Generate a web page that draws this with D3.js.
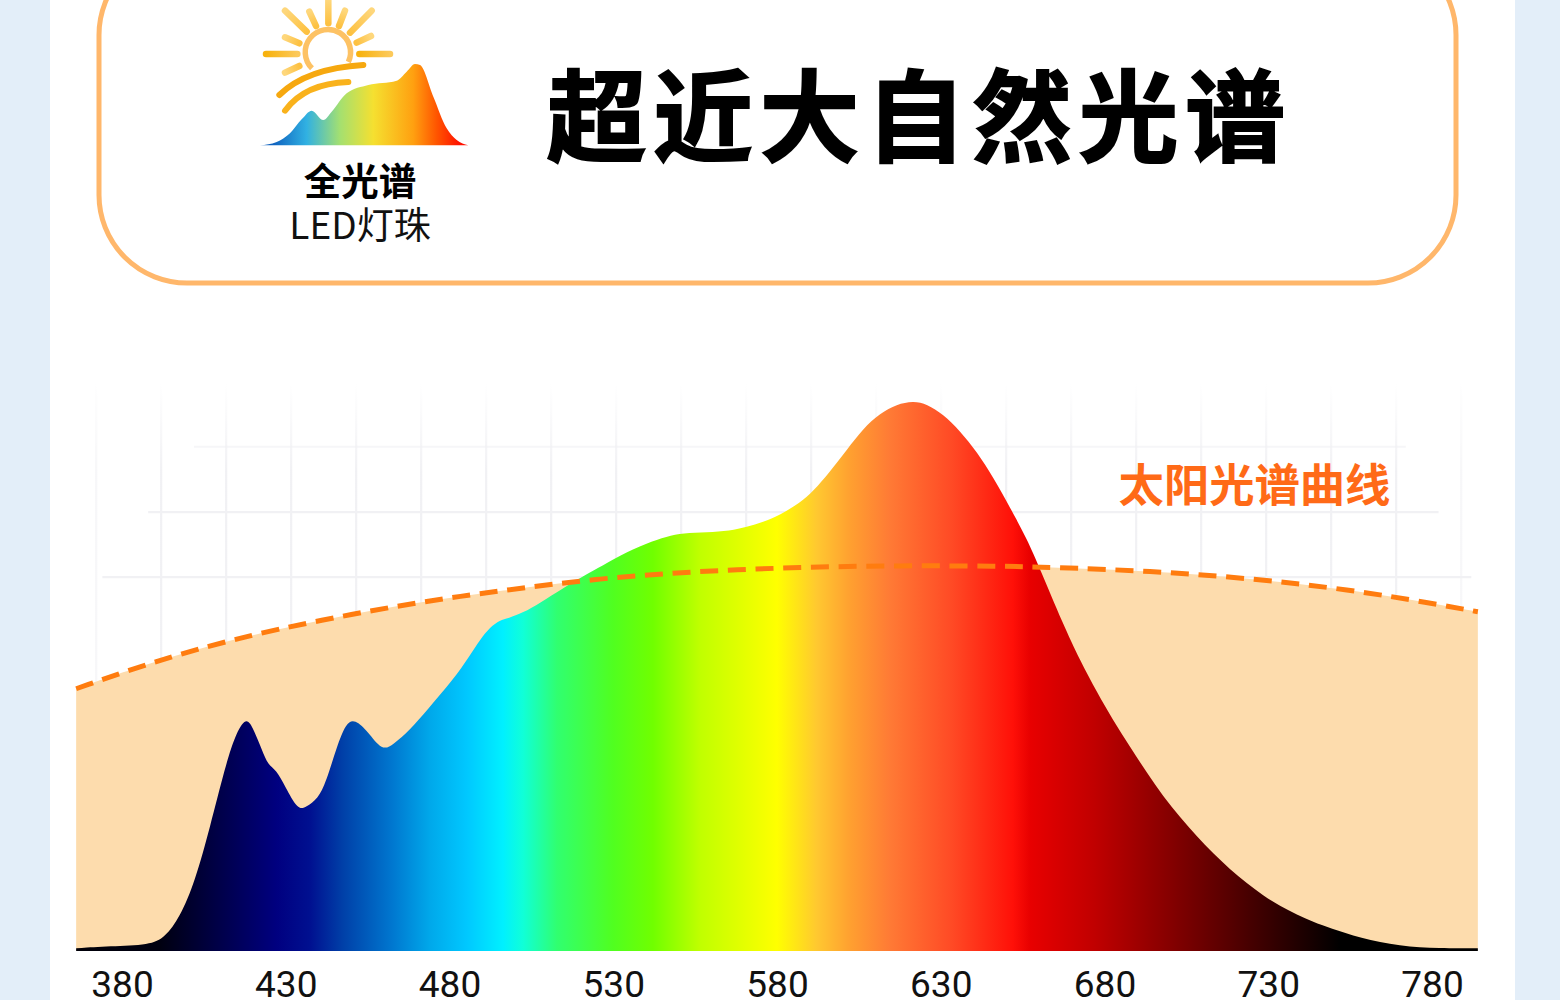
<!DOCTYPE html>
<html><head><meta charset="utf-8">
<script src="https://cdn.jsdelivr.net/npm/d3@7/dist/d3.min.js"></script>
<style>html,body{margin:0;padding:0;background:#e3eef9;overflow:hidden}svg{display:block}</style>
</head><body><svg id="c" width="1560" height="1000"></svg>
<script>
const titleText = "超近大自然光谱";
const badgeBold = "全光谱";
const badgeLight = "LED灯珠";
const curveLabel = "太阳光谱曲线";
const tickValues = [380,430,480,530,580,630,680,730,780];

const spectrumNm = [366,376.3,388.5,393.1,397.7,402.3,406.9,411.5,414.5,417.9,420.3,422.7,424.6,427,429.8,433.7,436.2,439.8,442.3,445.6,448.4,451.1,455.1,459.4,462.7,467.9,473.1,481.1,486.3,489.3,492.4,495.4,497.9,502.4,507.6,514.7,519.8,525,532.1,540.3,546.4,551.3,558.6,565.6,570.8,575.7,580.9,587,591,596.2,601.4,606.3,611.5,616.6,621.5,625.8,630.7,635.9,641.1,646,651.1,656.3,660.3,667.3,672.5,677.7,682.6,687.8,693,697.9,703.1,708.2,713.1,718.3,723.5,728.4,733.6,738.8,743.7,748.9,758,770.2,782.4,794];
const spectrumValue = [0.3,0.7,0.9,2.3,6,12.5,22.4,33.3,39,42.6,40,36.4,33.6,32.8,29.8,25.4,26,27.5,30.5,37,41.3,42,39.7,36.2,37.3,40,43.6,49.1,53.6,56.4,58.7,60,60.3,61.3,63.1,65.8,67.6,69.3,71.8,74,75.2,75.8,75.9,76.2,76.9,77.8,79.1,81.3,83.4,87,91,94.8,97.6,99.2,99.8,99.3,97.4,94.4,90.5,86,80.5,74.8,69.3,59.3,52.7,46.9,41.8,36.9,32.2,27.9,24.1,20.7,17.6,14.7,12.1,9.9,8,6.4,5.1,4,2.2,0.7,0.3,0.3];
const solarNm = [366,388.5,413,440.5,471,495.4,526,556.5,587,617.6,648,663.4,693.9,724.4,755,779.4,794];
const solarValue = [47.5,52.2,56.4,60,63.3,65.3,67.6,68.9,69.6,69.9,69.8,69.6,68.9,67.6,65.5,63.1,61.5];
const gradientNm = [366,391.6,406.9,427.3,437.4,447.5,462.7,474,485.3,496.3,502.4,512.8,529.9,542.1,556.5,580,592.2,602.3,614.5,633.4,652,657.3,677.1,695.7,714.4,733,752,794];
const gradientColor = ["#000008","#000010","#000040","#000080","#001090","#0040a8","#0078d0","#00a8ea","#00c8ff","#00f0ff","#10ffd8","#30ff70","#50ff20","#70ff00","#c0ff00","#ffff00","#ffc830","#ffa030","#ff7a35","#ff4a25","#ff1008","#e80000","#c00000","#900000","#600000","#300000","#000000","#000000"];
const gridNm = d3.range(0,22).map(i=>366+ (20+65*i)/3.275);
const gridLevel = [67.8,79.6,91.5];
const gridAlpha = [1,.95,.6];

const svg = d3.select("#c");
const x = d3.scaleLinear().domain([380,780]).range([122,1432]);
const y = d3.scaleLinear().domain([0,100]).range([950,400]);
const defs = svg.append("defs");

svg.append("rect").attr("x",50).attr("y",0).attr("width",1465).attr("height",1000).attr("fill","#fff");
svg.append("rect").attr("x",99).attr("y",-53).attr("width",1357).attr("height",336).attr("rx",88).attr("ry",88)
  .attr("fill","#fff").attr("stroke","#ffb76b").attr("stroke-width",5);

// title
const cjk = "'Noto Sans CJK SC','Noto Sans',sans-serif";
svg.append("text").text(titleText).attr("x",919).attr("y",153.5).attr("text-anchor","middle")
  .attr("font-family",cjk).attr("font-weight",700).attr("font-size",100).attr("letter-spacing",6.4)
  .attr("fill","#000").attr("stroke","#000").attr("stroke-width",1.8);
svg.append("text").text(badgeBold).attr("x",360).attr("y",195).attr("text-anchor","middle")
  .attr("font-family",cjk).attr("font-weight",700).attr("font-size",37.5).attr("fill","#000");
svg.append("text").text(badgeLight).attr("x",360).attr("y",239).attr("text-anchor","middle")
  .attr("font-family",cjk).attr("font-weight",400).attr("font-size",37).attr("fill","#111");

// logo (zoom-space coordinates mapped into the page)
const lx = d3.scaleLinear().domain([0,720]).range([240,480]);
const ly = d3.scaleLinear().domain([0,780]).range([0,260]);
const logoRays = [[265,0,265,70],[135,32,200,95],[208,35,228,78],[315,32,297,78],[395,32,330,98],[135,112,178,130],[393,108,350,128],[78,162,172,162],[358,162,450,162],[135,218,178,198]];
const rayG = svg.append("g");
logoRays.forEach(r=>{
  const grad = defs.append("linearGradient").attr("id","r"+r.join("_")).attr("gradientUnits","userSpaceOnUse")
    .attr("x1",lx(r[0])).attr("y1",ly(r[1])).attr("x2",lx(r[2])).attr("y2",ly(r[3]));
  grad.append("stop").attr("offset",0).attr("stop-color",r[0]==78||r[0]==358?"#f7b20e":"#fed77c");
  grad.append("stop").attr("offset",1).attr("stop-color",r[0]==78||r[0]==358?"#fcc95a":"#fdc141");
  rayG.append("line").attr("x1",lx(r[0])).attr("y1",ly(r[1])).attr("x2",lx(r[2])).attr("y2",ly(r[3]))
    .attr("stroke","url(#r"+r.join("_")+")").attr("stroke-width",6.5).attr("stroke-linecap","round");
});
svg.append("path").attr("d",`M${lx(216)},${ly(205)} A${68/3},${68/3} 0 1 1 ${lx(325)},${ly(186)}`)
  .attr("fill","none").attr("stroke","#fdc264").attr("stroke-width",5.5);
svg.append("path").attr("d",`M${lx(118)},${ly(285)} Q${lx(200)},${ly(205)} ${lx(370)},${ly(195)}`)
  .attr("fill","none").attr("stroke","#f6a80f").attr("stroke-width",6).attr("stroke-linecap","round");
svg.append("path").attr("d",`M${lx(135)},${ly(332)} Q${lx(195)},${ly(250)} ${lx(325)},${ly(246)}`)
  .attr("fill","none").attr("stroke","#f9b21c").attr("stroke-width",6).attr("stroke-linecap","round");

const logoX = [60,110,150,185,215,250,275,320,385,470,500,525,540,580,620,650,685];
const logoY = [436,426,400,358,332,360,335,280,255,242,215,192,195,290,385,420,436];
const logoGrad = defs.append("linearGradient").attr("id","logoGrad").attr("gradientUnits","userSpaceOnUse")
  .attr("x1",lx(60)).attr("x2",lx(685)).attr("y1",0).attr("y2",0);
[[100,"#0f62bf"],[200,"#31b1e2"],[300,"#a4e070"],[400,"#f5e030"],[520,"#ffa010"],[590,"#ff5500"],[660,"#ff1000"]].forEach(s=>
  logoGrad.append("stop").attr("offset",(s[0]-60)/625).attr("stop-color",s[1]));
svg.append("path").datum(logoX.map((d,i)=>[d,logoY[i]]))
  .attr("d",d3.area().x(d=>lx(d[0])).y0(ly(436)).y1(d=>ly(d[1])).curve(d3.curveMonotoneX))
  .attr("fill","url(#logoGrad)");

// grid, faint and fading upward
const fade = defs.append("linearGradient").attr("id","gridFade").attr("gradientUnits","userSpaceOnUse")
  .attr("x1",0).attr("x2",0).attr("y1",y(103)).attr("y2",y(87));
fade.append("stop").attr("offset",0).attr("stop-color","#f1f1f4").attr("stop-opacity",0);
fade.append("stop").attr("offset",1).attr("stop-color","#f1f1f4").attr("stop-opacity",1);
const gridG = svg.append("g");
gridNm.forEach(n=>{
  gridG.append("line").attr("x1",x(n)).attr("x2",x(n)+0.01).attr("y1",y(103)).attr("y2",y(40))
    .attr("stroke","url(#gridFade)").attr("stroke-width",2.2).attr("opacity",(x(n)<110||x(n)>1400)?.5:1);
});
gridLevel.forEach((v,i)=>{
  gridG.append("line").attr("x1",x(374+i*14)).attr("x2",x(792-i*10)).attr("y1",y(v)).attr("y2",y(v))
    .attr("stroke","#f1f1f4").attr("stroke-width",2.2).attr("opacity",gridAlpha[i]);
});

// solar area + spectrum
const solar = solarNm.map((n,i)=>({n,v:solarValue[i]}));
const spec = spectrumNm.map((n,i)=>({n,v:spectrumValue[i]}));
svg.append("path").datum(solar)
  .attr("d",d3.area().x(d=>x(d.n)).y0(y(-.1)).y1(d=>y(d.v)).curve(d3.curveBasis))
  .attr("fill","#fddcad");
const grad = defs.append("linearGradient").attr("id","spec").attr("gradientUnits","userSpaceOnUse")
  .attr("x1",x(366)).attr("x2",x(794)).attr("y1",0).attr("y2",0);
gradientNm.forEach((n,i)=>grad.append("stop").attr("offset",(n-366)/(794-366)).attr("stop-color",gradientColor[i]));
svg.append("path").datum(spec)
  .attr("d",d3.area().x(d=>x(d.n)).y0(y(-.2)).y1(d=>y(d.v)).curve(d3.curveBasis))
  .attr("fill","url(#spec)");
svg.append("path").datum(solar)
  .attr("d",d3.line().x(d=>x(d.n)).y(d=>y(d.v)).curve(d3.curveBasis))
  .attr("fill","none").attr("stroke","#ff7c0f").attr("stroke-width",5).attr("stroke-dasharray","18 9.7");

svg.append("text").text(curveLabel).attr("x",1254.5).attr("y",502).attr("text-anchor","middle")
  .attr("font-family",cjk).attr("font-weight",700).attr("font-size",45.3).attr("fill","#ff6a17");

// axis
const axis = d3.axisBottom(x).tickValues(tickValues).tickSize(0).tickPadding(0).tickFormat(d3.format("d"));
const ag = svg.append("g").attr("transform","translate(0,951)").call(axis);
ag.select(".domain").remove();
ag.selectAll("text").attr("font-family","Roboto,'Noto Sans',sans-serif").attr("font-size",37).attr("fill","#111").attr("y",20).attr("dy","0.71em");
</script></body></html>
